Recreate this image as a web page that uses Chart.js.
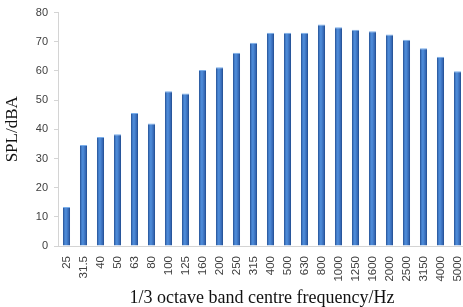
<!DOCTYPE html>
<html>
<head>
<meta charset="utf-8">
<script src="https://cdn.jsdelivr.net/npm/chart.js@4/dist/chart.umd.min.js"></script>
<style>
  html, body { margin: 0; padding: 0; background: #fff; overflow: hidden; }
  #wrap { width: 466px; height: 307px; }
</style>
</head>
<body>
<div id="wrap"><canvas id="spl"></canvas></div>
<script>
// 1/3 octave band centre frequencies (Hz)
var bands = ['25', '31.5', '40', '50', '63', '80', '100', '125', '160', '200', '250', '315',
             '400', '500', '630', '800', '1000', '1250', '1600', '2000', '2500', '3150', '4000', '5000'];
// SPL (dBA)
var spl = [13.4, 34.6, 37.4, 38.3, 45.6, 42, 53, 52.3, 60.3, 61.3, 66.2, 69.7,
           73.1, 73.1, 73.1, 75.9, 75, 74.1, 73.6, 72.5, 70.7, 67.8, 64.9, 59.9];
var yTicks = [0, 10, 20, 30, 40, 50, 60, 70, 80];

var barPct = 0.42;

// horizontal "cylinder" shading per bar
function barFill(ctx) {
  var chart = ctx.chart;
  var xs = chart.scales.x;
  if (!xs || ctx.dataIndex === undefined) return '#3a73c4';
  var cx = xs.getPixelForValue(ctx.dataIndex);
  var w = xs.width / bands.length * barPct;
  if (!isFinite(cx) || !isFinite(w) || w <= 0) return '#3a73c4';
  var g = chart.ctx.createLinearGradient(cx - w / 2, 0, cx + w / 2, 0);
  g.addColorStop(0, '#244f92');
  g.addColorStop(0.3, '#4d8bd9');
  g.addColorStop(0.5, '#4a86d3');
  g.addColorStop(0.8, '#3568b5');
  g.addColorStop(1, '#204a8a');
  return g;
}

var ctx = document.getElementById('spl').getContext('2d');
new Chart(ctx, {
  type: 'bar',
  data: {
    labels: bands,
    datasets: [{
      data: spl,
      backgroundColor: barFill,
      borderColor: '#7aaeea',
      borderWidth: { top: 1, left: 0, right: 0, bottom: 0 },
      borderSkipped: 'bottom',
      barPercentage: barPct,
      categoryPercentage: 1
    }]
  },
  options: {
    responsive: true,
    maintainAspectRatio: false,
    animation: false,
    layout: { padding: { top: 7, right: 0, bottom: 0, left: 0 } },
    plugins: { legend: { display: false }, tooltip: { enabled: false } },
    scales: {
      x: {
        grid: { display: false, drawTicks: false },
        border: { color: '#d4d4d4', width: 1 },
        ticks: {
          minRotation: 90, maxRotation: 90, autoSkip: false, padding: 10,
          color: '#404040', font: { family: 'Liberation Sans', size: 11.5 }
        },
        title: {
          display: true, text: '1/3 octave band centre frequency/Hz',
          color: '#111', font: { family: 'Liberation Serif', size: 18, lineHeight: 1 }, padding: { top: 0, bottom: 0 }
        },
        afterFit: function (s) { s.height = 61; s.paddingLeft = 0; s.paddingRight = 0; }
      },
      y: {
        min: 0, max: 80,
        afterBuildTicks: function (s) { s.ticks = yTicks.map(function (v) { return { value: v }; }); },
        grid: { drawOnChartArea: false, drawTicks: true, tickLength: 4, color: '#d4d4d4' },
        border: { color: '#d4d4d4', width: 1 },
        ticks: { padding: 6, color: '#404040', font: { family: 'Liberation Sans', size: 11 } },
        title: {
          display: true, text: 'SPL/dBA',
          color: '#111', font: { family: 'Liberation Serif', size: 17 }, padding: { top: 2, bottom: 0 }
        },
        afterFit: function (s) { s.width = 58; }
      }
    }
  }
});
</script>
</body>
</html>
